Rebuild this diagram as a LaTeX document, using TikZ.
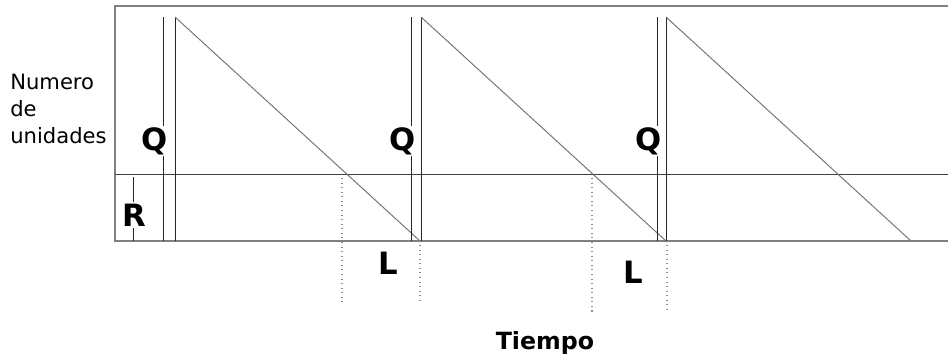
\documentclass[tikz,border=0pt]{standalone}
\usepackage{fontspec}
\setmainfont{DejaVu Sans}
\usepackage{tikz}
\usetikzlibrary{positioning}

\begin{document}
\begin{tikzpicture}[
  x=0.02cm, y=-0.02cm,
  frame/.style={draw=black!50,line width=1.1pt},
  lvl/.style={draw=black!75,line width=0.55pt},
  bar/.style={draw=black!85,line width=0.5pt},
  saw/.style={draw=black!55,line width=0.55pt},
  guide/.style={draw=black!45,dotted,line width=0.6pt},
  big/.style={font=\fontsize{17.5}{17.5}\selectfont\bfseries,fill=white,inner sep=1pt},
  axl/.style={font=\fontsize{12}{15.3}\selectfont,align=left,inner sep=0pt}
]
\useasboundingbox (0,0) rectangle (948,362);

% ---------------- frame and reorder level ----------------
\coordinate (tl) at (115,6);
\coordinate (bl) at (115,241);
\coordinate (tr) at (948,6);
\coordinate (br) at (948,241);
\coordinate (rl) at (115,174);
\coordinate (rr) at (948,174);
\draw[frame] (tr) -- (tl) -- (bl) -- (br);
\draw[lvl] (rl) -- (rr);

% ---------------- R ----------------
\coordinate (rtop) at (133,177);
\coordinate (rbot) at (133,241);
\draw[bar] (rtop) -- (rbot);
\node[big] (rlbl) at (134,215) {R};

% ---------------- cycles ----------------
\foreach \i/\a/\b/\e in {1/163/175/420, 2/411/421/666, 3/657/666/911}{
  \coordinate (qa\i) at (\a,17);
  \coordinate (qb\i) at (\a,241);
  \coordinate (top\i) at (\b,17);
  \coordinate (foot\i) at (\b,241);
  \coordinate (end\i) at (\e,241);
  \draw[bar] (qa\i) -- (qb\i);
  \draw[bar] (top\i) -- (foot\i);
  \draw[saw] (top\i) -- (end\i);
  \node[big] (q\i) at (\a-8,141) {Q};
}

% ---------------- lead times ----------------
\coordinate (o1) at (342,178);  \coordinate (o1b) at (342,302);
\coordinate (a1) at (420,245);  \coordinate (a1b) at (420,302);
\coordinate (o2) at (592,178);  \coordinate (o2b) at (592,312);
\coordinate (a2) at (667,245);  \coordinate (a2b) at (667,312);
\draw[guide] (o1) -- (o1b);
\draw[guide] (a1) -- (a1b);
\draw[guide] (o2) -- (o2b);
\draw[guide] (a2) -- (a2b);
\node[big] (l1) at (388,263) {L};
\node[big] (l2) at (633,272) {L};

% ---------------- axis texts ----------------
\node[axl,anchor=north west] (ylbl) at (10,74) {Numero\\de\\unidades};
\node[font=\fontsize{13.5}{13.5}\selectfont\bfseries] (xlbl) at (545,343) {Tiempo};
\end{tikzpicture}
\end{document}
